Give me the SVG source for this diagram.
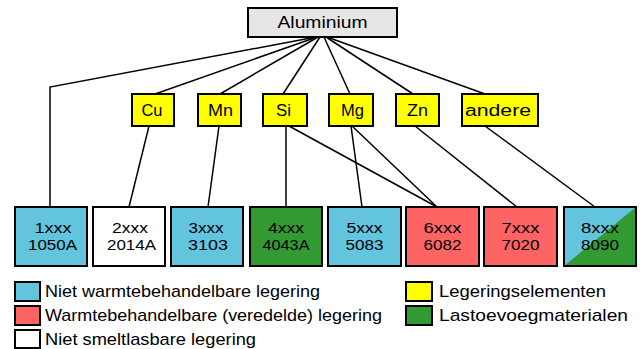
<svg xmlns="http://www.w3.org/2000/svg" width="640" height="349" viewBox="0 0 640 349">
<style>
.n{stroke:#000;stroke-width:2}
.t{font-family:"Liberation Sans",Arial,sans-serif;font-size:16px;fill:#000;text-anchor:middle}
.b{font-family:"Liberation Sans",Arial,sans-serif;font-size:15px;fill:#000;text-anchor:middle}
.l{font-family:"Liberation Sans",Arial,sans-serif;font-size:17px;fill:#000}
.c{fill:none;stroke:#000;stroke-width:1.5}
.blue{fill:#62C4DD}.red{fill:#FF6464}.green{fill:#339933}.yel{fill:#FFFF00}.wht{fill:#FFFFFF}
</style>
<rect width="640" height="349" fill="#fff"/>
<g id="connectors">
<polyline class="c" points="316,37 50,87 50,207"/>
<line class="c" x1="317" y1="37" x2="155" y2="94"/>
<line class="c" x1="318" y1="37" x2="220" y2="94"/>
<line class="c" x1="320" y1="37" x2="283" y2="94"/>
<line class="c" x1="324" y1="37" x2="350" y2="94"/>
<line class="c" x1="326" y1="37" x2="413" y2="94"/>
<line class="c" x1="327" y1="37" x2="485" y2="94"/>
<line class="c" x1="149" y1="126" x2="129" y2="207"/>
<line class="c" x1="219" y1="126" x2="208" y2="207"/>
<line class="c" x1="286" y1="126" x2="286" y2="207"/>
<line class="c" x1="289" y1="126" x2="437" y2="207"/>
<line class="c" x1="351" y1="126" x2="362" y2="207"/>
<line class="c" x1="352" y1="126" x2="437" y2="207"/>
<line class="c" x1="415" y1="126" x2="517" y2="207"/>
<line class="c" x1="485" y1="126" x2="595" y2="207"/>
</g>
<g id="aluminium"><rect class="n" x="248" y="8" width="149" height="29" fill="#E6E6E6"/><text class="t" x="322.5" y="28" textLength="90" lengthAdjust="spacingAndGlyphs">Aluminium</text></g>
<g id="cu"><rect class="n yel" x="132" y="94" width="42" height="32"/><text class="t" x="152" y="116" textLength="21" lengthAdjust="spacingAndGlyphs">Cu</text></g>
<g id="mn"><rect class="n yel" x="198" y="94" width="43" height="32"/><text class="t" x="220.5" y="116" textLength="25" lengthAdjust="spacingAndGlyphs">Mn</text></g>
<g id="si"><rect class="n yel" x="263" y="94" width="44" height="32"/><text class="t" x="283.5" y="116" textLength="15" lengthAdjust="spacingAndGlyphs">Si</text></g>
<g id="mg"><rect class="n yel" x="329" y="94" width="44" height="32"/><text class="t" x="352.5" y="116" textLength="23" lengthAdjust="spacingAndGlyphs">Mg</text></g>
<g id="zn"><rect class="n yel" x="396" y="94" width="43" height="32"/><text class="t" x="417.5" y="116" textLength="21" lengthAdjust="spacingAndGlyphs">Zn</text></g>
<g id="andere"><rect class="n yel" x="462" y="94" width="76" height="32"/><text class="t" x="498" y="116" textLength="66" lengthAdjust="spacingAndGlyphs">andere</text></g>
<g id="s1xxx"><rect class="n blue" x="15" y="207" width="72" height="59"/><text class="b" x="53" y="233" textLength="37" lengthAdjust="spacingAndGlyphs">1xxx</text><text class="b" x="52.5" y="250" textLength="49" lengthAdjust="spacingAndGlyphs">1050A</text></g>
<g id="s2xxx"><rect class="n wht" x="93" y="207" width="72" height="59"/><text class="b" x="130" y="233" textLength="36" lengthAdjust="spacingAndGlyphs">2xxx</text><text class="b" x="131.5" y="250" textLength="49" lengthAdjust="spacingAndGlyphs">2014A</text></g>
<g id="s3xxx"><rect class="n blue" x="171" y="207" width="72" height="59"/><text class="b" x="206" y="233" textLength="35" lengthAdjust="spacingAndGlyphs">3xxx</text><text class="b" x="208" y="250" textLength="40" lengthAdjust="spacingAndGlyphs">3103</text></g>
<g id="s4xxx"><rect class="n green" x="250" y="207" width="72" height="59"/><text class="b" x="286" y="233" textLength="36" lengthAdjust="spacingAndGlyphs">4xxx</text><text class="b" x="286" y="250" textLength="47" lengthAdjust="spacingAndGlyphs">4043A</text></g>
<g id="s5xxx"><rect class="n blue" x="328" y="207" width="73" height="59"/><text class="b" x="364.5" y="233" textLength="36" lengthAdjust="spacingAndGlyphs">5xxx</text><text class="b" x="364.5" y="250" textLength="38" lengthAdjust="spacingAndGlyphs">5083</text></g>
<g id="s6xxx"><rect class="n red" x="406" y="207" width="73" height="59"/><text class="b" x="442.5" y="233" textLength="38" lengthAdjust="spacingAndGlyphs">6xxx</text><text class="b" x="442.5" y="250" textLength="38" lengthAdjust="spacingAndGlyphs">6082</text></g>
<g id="s7xxx"><rect class="n red" x="484" y="207" width="73" height="59"/><text class="b" x="520.5" y="233" textLength="38" lengthAdjust="spacingAndGlyphs">7xxx</text><text class="b" x="520.5" y="250" textLength="38" lengthAdjust="spacingAndGlyphs">7020</text></g>
<g id="s8xxx"><rect class="blue" x="564" y="207" width="72" height="59"/><polygon class="green" points="636,207 636,266 564,266"/><rect class="n" x="564" y="207" width="72" height="59" fill="none"/><text class="b" x="600" y="233" textLength="38" lengthAdjust="spacingAndGlyphs">8xxx</text><text class="b" x="600" y="250" textLength="38" lengthAdjust="spacingAndGlyphs">8090</text></g>
<g id="legend">
<rect class="n blue" x="15" y="282" width="25" height="19"/><text class="l" x="45" y="297" textLength="275" lengthAdjust="spacingAndGlyphs">Niet warmtebehandelbare legering</text>
<rect class="n red" x="15" y="306" width="25" height="19"/><text class="l" x="45" y="321" textLength="337" lengthAdjust="spacingAndGlyphs">Warmtebehandelbare (veredelde) legering</text>
<rect class="n wht" x="15" y="330" width="25" height="18"/><text class="l" x="45" y="345" textLength="211" lengthAdjust="spacingAndGlyphs">Niet smeltlasbare legering</text>
<rect class="n yel" x="406" y="282" width="26" height="19"/><text class="l" x="439" y="297" textLength="167" lengthAdjust="spacingAndGlyphs">Legeringselementen</text>
<rect class="n green" x="406" y="306" width="26" height="19"/><text class="l" x="439" y="321" textLength="189" lengthAdjust="spacingAndGlyphs">Lastoevoegmaterialen</text>
</g>
</svg>
